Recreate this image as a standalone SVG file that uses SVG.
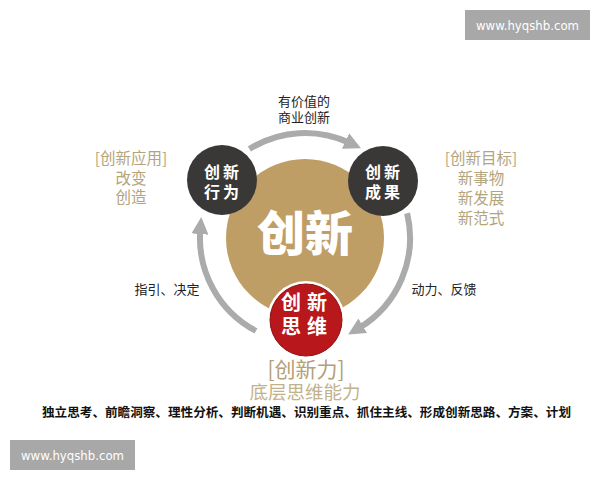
<svg xmlns="http://www.w3.org/2000/svg" width="600" height="480" viewBox="0 0 600 480">
<style>
.cjk{font-family:"Noto Sans CJK SC","Noto Sans",sans-serif}
.tan{fill:#b3a47c}
.side{font-size:15.5px;text-anchor:middle;font-weight:400}
.lbl{font-size:13px;fill:#222;text-anchor:middle}
.node{font-size:16px;font-weight:700;fill:#fff;text-anchor:middle}
.big{font-size:20px}
.arc{fill:none;stroke:#ababab;stroke-width:6}
.wm{fill:#a8a8a8}
.wmt{font-family:"DejaVu Sans",sans-serif;font-size:12.5px;fill:#fff;text-anchor:middle}
</style>
<defs>
<marker id="ah" markerUnits="userSpaceOnUse" markerWidth="17" markerHeight="17" viewBox="0 0 16 16" refX="4" refY="8" orient="auto">
<path d="M0,0 L16,8 L0,16 z" fill="#ababab"/>
</marker>
</defs>
<rect width="600" height="480" fill="#fff"/>

<g id="watermarks">
<rect class="wm" x="465" y="10" width="125" height="30"/>
<text class="wmt" x="527.5" y="29.5" textLength="103" lengthAdjust="spacingAndGlyphs">www.hyqshb.com</text>
<rect class="wm" x="10" y="440" width="125" height="30"/>
<text class="wmt" x="72.5" y="459.5" textLength="103" lengthAdjust="spacingAndGlyphs">www.hyqshb.com</text>
</g>

<g id="center">
<circle cx="305" cy="238" r="79" fill="#bf9e66"/>
<text class="cjk" x="305" y="251" font-size="48" font-weight="900" fill="#fff" text-anchor="middle">创新</text>
</g>

<g id="connectors">
<path class="arc" d="M249.4,149 A105,105 0 0 1 349.4,142.8" marker-end="url(#ah)"/>
<path class="arc" d="M407.1,213.3 A105,105 0 0 1 359.1,328" marker-end="url(#ah)"/>
<path class="arc" d="M256,330.9 A105,105 0 0 1 200.3,229.8" marker-end="url(#ah)"/>
</g>

<g id="node-behavior">
<circle cx="222" cy="180" r="35" fill="#3a3837"/>
<text class="cjk node"><tspan x="212 231" y="178">创新</tspan><tspan x="212 231" y="198">行为</tspan></text>
</g>

<g id="node-result">
<circle cx="383" cy="181" r="35" fill="#3a3837"/>
<text class="cjk node"><tspan x="373 392" y="178">创新</tspan><tspan x="373 392" y="198">成果</tspan></text>
</g>

<g id="node-thinking">
<circle cx="306" cy="320" r="39" fill="#fff"/>
<circle cx="306" cy="320" r="36" fill="#b8171b" stroke="#8e1012" stroke-width="1"/>
<text class="cjk node big"><tspan x="291 317" y="310">创新</tspan><tspan x="291 317" y="334">思维</tspan></text>
</g>

<g id="labels">
<text class="cjk lbl"><tspan x="304" y="106">有价值的</tspan><tspan x="304" y="122">商业创新</tspan></text>
<text class="cjk lbl" x="167" y="294">指引、决定</text>
<text class="cjk lbl" x="444" y="294">动力、反馈</text>
</g>

<g id="apply">
<text class="cjk side tan"><tspan x="131" y="164">[创新应用]</tspan><tspan x="131" y="184">改变</tspan><tspan x="131" y="203">创造</tspan></text>
</g>

<g id="goal">
<text class="cjk side tan"><tspan x="481" y="164">[创新目标]</tspan><tspan x="481" y="184">新事物</tspan><tspan x="481" y="204">新发展</tspan><tspan x="481" y="224">新范式</tspan></text>
</g>

<g id="power">
<text class="cjk" text-anchor="middle"><tspan x="306" y="377" font-size="21" fill="#b3a074">[创新力]</tspan><tspan x="305" y="399" font-size="18.5" fill="#c2b28b">底层思维能力</tspan></text>
<text class="cjk" x="42" y="417" font-size="12.5" fill="#111" font-weight="700" textLength="529" lengthAdjust="spacingAndGlyphs">独立思考、前瞻洞察、理性分析、判断机遇、识别重点、抓住主线、形成创新思路、方案、计划</text>
</g>
</svg>
